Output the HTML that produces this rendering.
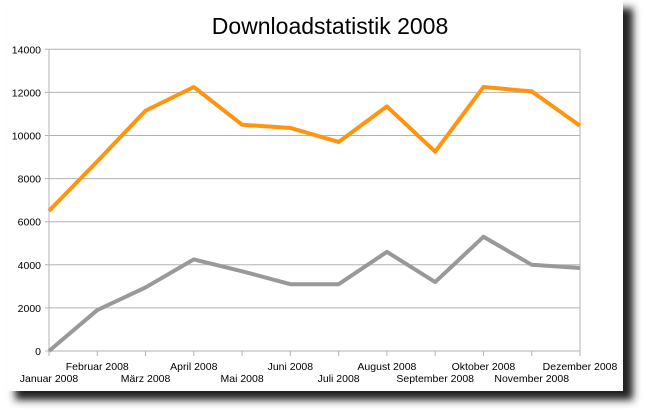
<!DOCTYPE html>
<html><head><meta charset="utf-8"><style>
body{margin:0;width:646px;height:414px;background:#fff;overflow:hidden;font-family:"Liberation Sans",sans-serif}
</style></head><body>
<svg width="646" height="414">
<defs><filter id="sh" x="-10%" y="-10%" width="130%" height="130%"><feGaussianBlur stdDeviation="4"/></filter></defs>
<rect x="15" y="8" width="618" height="392" fill="#222" filter="url(#sh)"/>
<rect x="7" y="0" width="616" height="391" fill="#fff"/>
<text x="330" y="34" font-size="23" text-anchor="middle" fill="#000">Downloadstatistik 2008</text>
<g id="grid"></g><g id="series"></g><g id="xl"></g>
</svg>
<script>
const months=["Januar 2008","Februar 2008","März 2008","April 2008","Mai 2008","Juni 2008","Juli 2008","August 2008","September 2008","Oktober 2008","November 2008","Dezember 2008"];
const orangeValues=[6500,8800,11150,12250,10500,10350,9700,11350,9250,12250,12050,10450];
const grayValues=[0,1900,2950,4250,3700,3100,3100,4600,3200,5300,4000,3850];
const yTicks=[0,2000,4000,6000,8000,10000,12000,14000];
const NS="http://www.w3.org/2000/svg";
const x0=49,x1=580,y0=351,y1=49.3,yMax=14000;
const xs=i=>x0+i*(x1-x0)/(months.length-1);
const ys=v=>y0-v/yMax*(y0-y1);
function mk(t,a,p){const e=document.createElementNS(NS,t);for(const k in a)e.setAttribute(k,a[k]);p.appendChild(e);return e;}
const g=document.getElementById('grid');
yTicks.forEach(v=>{
 const l=mk('line',{x1:x0-4,x2:x1,y1:ys(v),y2:ys(v),stroke:'#b3b3b3','stroke-width':1},g);
 
 
 const t=mk('text',{x:x0-8,y:ys(v)+4,'font-size':10.5,'text-anchor':'end',fill:'#000'},g);
 t.textContent=v;
 
 
});
const ax=mk('line',{x1:x0,x2:x0,y1:y1,y2:y0,stroke:'#b3b3b3'},g);


const ax2=mk('line',{x1:x1,x2:x1,y1:y1,y2:y0,stroke:'#b3b3b3'},g);


const xl=document.getElementById('xl');
months.forEach((m,i)=>{
 const tk=mk('line',{x1:xs(i),x2:xs(i),y1:y0,y2:y0+5,stroke:'#b3b3b3'},xl);
 
 
 const t=mk('text',{x:xs(i),y:i%2?370:382,'font-size':10.5,'text-anchor':'middle',fill:'#000'},xl);
 t.textContent=m;
 
 
});
const s=document.getElementById('series');
const pg=mk('polyline',{points:grayValues.map((v,i)=>xs(i)+','+ys(v)).join(' '),fill:'none',stroke:'#999','stroke-width':4,'stroke-linejoin':'round'},s);


const po=mk('polyline',{points:orangeValues.map((v,i)=>xs(i)+','+ys(v)).join(' '),fill:'none',stroke:'#ff950e','stroke-width':4,'stroke-linejoin':'round'},s);


</script>
</body></html>
